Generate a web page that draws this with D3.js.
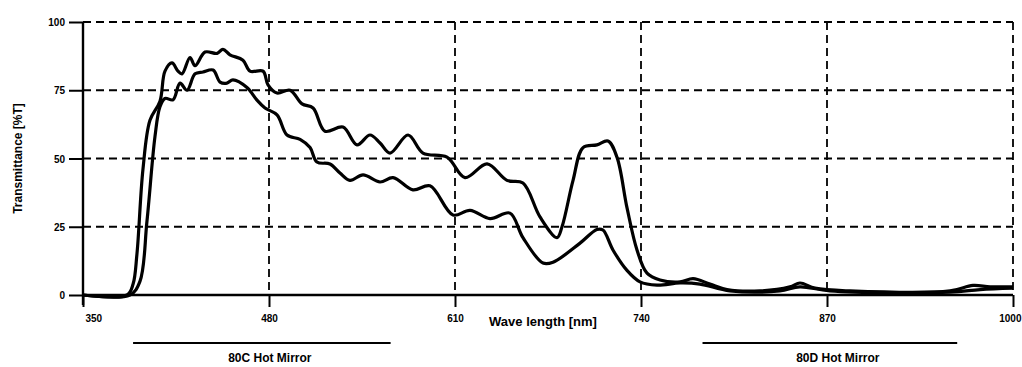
<!DOCTYPE html>
<html>
<head>
<meta charset="utf-8">
<script src="https://cdn.jsdelivr.net/npm/d3@7"></script>
<style>
  body { margin: 0; background: #fff; }
  text { font-family: "Liberation Sans", Arial, sans-serif; font-weight: bold; fill: #000; }
</style>
</head>
<body>
<script>
// wavelength ticks [nm] and transmittance ticks [%T]
var xTicks = [350, 480, 610, 740, 870, 1000];
var yTicks = [0, 25, 50, 75, 100];

// 80C Hot Mirror (upper curve)
var wlC = [350, 380.8, 385, 387.7, 391.9, 396.8, 403.8, 407.3, 412.2, 416.4, 419.2, 424.8, 428.3, 435.3, 443.7, 447.8,
  452.7, 461.8, 466.7, 475.8, 479.3, 485.6, 494.7, 503.1, 510.8, 519.1, 531.7, 541.5, 550.6, 557.6, 564.6, 577.2,
  587.6, 604.4, 617, 632.4, 646.3, 657.5, 669.4, 681.3, 684.8, 692.5, 699.5, 709.2, 716.9, 723.2, 730.2, 737.2,
  744.2, 753.3, 767.3, 776.4, 788.2, 800.1, 823.2, 844.1, 851.1, 861.6, 886, 956, 972, 984, 1000];
var tC = [0, 0, 4, 15, 46, 64, 71, 82, 85, 82, 81, 87, 84, 89, 88.5, 90,
  88, 86, 82, 82, 77, 74, 75, 70, 68.5, 60, 61.5, 55, 58.6, 55.7, 52, 58.6,
  52, 50.5, 43, 48, 42, 41, 28.6, 21, 25, 42, 54, 55, 56.4, 50.5, 32, 16.5,
  8, 5.5, 4.8, 6, 4, 2, 1.5, 3, 4.4, 2.5, 1.5, 1.5, 3.5, 3, 3];

// 80D Hot Mirror (lower curve)
var wlD = [350, 382.8, 389.8, 394.7, 400.3, 403.8, 407.3, 412.9, 417.8, 422.7, 428.3, 433.9, 440.9, 445.8, 450.6, 454.8,
  464.6, 471.6, 477.2, 485.6, 492.6, 501.7, 508.7, 513.5, 522.6, 529.6, 536.6, 545.7, 557.6, 566.7, 580.6, 592.5,
  608.6, 620.5, 634.5, 648.4, 657.5, 671.5, 678.5, 697.4, 709.2, 713.4, 720.4, 730.2, 739.3, 751.2, 767.3, 781.2,
  802.2, 837, 851.1, 872, 956, 977, 1000];
var tD = [0, 0, 5, 27, 58, 69, 72, 71.5, 77.6, 75, 81, 81.7, 82.4, 78, 77.6, 78.8,
  76, 71.4, 68.5, 66, 58.6, 57, 54, 48.7, 48, 44.7, 42, 44, 41.4, 43, 38.5, 40,
  29.3, 31, 28, 30, 21, 11.7, 12, 19, 24, 23.8, 16.5, 9, 4.8, 3.6, 4.4, 4,
  1.5, 1.5, 3, 1.5, 1, 2, 2.5];

var mirrorNames = ["80C Hot Mirror", "80D Hot Mirror"];
var mirrorRanges = [[385, 565], [783, 961]];

var width = 1022;
var height = 367;
var plotLeft = 83, plotRight = 1013, plotTop = 22, plotBottom = 295;

var svg = d3.select("body").append("svg")
  .attr("width", width)
  .attr("height", height);

var x = d3.scaleLinear().domain([350, 1000]).range([plotLeft, plotRight]);
var y = d3.scaleLinear().domain([0, 100]).range([plotBottom, plotTop]);

// dashed grid
svg.selectAll(".hgrid").data(yTicks.filter(function(d){ return d > 0; }))
  .enter().append("line")
  .attr("x1", plotLeft).attr("x2", plotRight)
  .attr("y1", function(d){ return y(d); }).attr("y2", function(d){ return y(d); })
  .attr("stroke", "#000").attr("stroke-width", 1.8).attr("stroke-dasharray", "8,5");

svg.selectAll(".vgrid").data(xTicks.slice(1))
  .enter().append("line")
  .attr("x1", function(d){ return x(d); }).attr("x2", function(d){ return x(d); })
  .attr("y1", plotTop).attr("y2", plotBottom)
  .attr("stroke", "#000").attr("stroke-width", 1.8).attr("stroke-dasharray", "8,5");

// axes
var xAxis = svg.append("g")
  .attr("transform", "translate(0," + plotBottom + ")")
  .call(d3.axisBottom(x).tickValues(xTicks).tickSize(12).tickPadding(8).tickFormat(d3.format("d")));
var yAxis = svg.append("g")
  .attr("transform", "translate(" + plotLeft + ",0)")
  .call(d3.axisLeft(y).tickValues(yTicks).tickSize(14).tickPadding(4).tickFormat(d3.format("d")));

[xAxis, yAxis].forEach(function(a){
  a.select(".domain").attr("stroke", "#000").attr("stroke-width", 2.4);
  a.selectAll(".tick line").attr("stroke", "#000").attr("stroke-width", 2);
  a.selectAll(".tick text").style("font-size", "10px").style("font-weight", "bold")
    .style("font-family", "'Liberation Sans', Arial, sans-serif").attr("fill", "#000");
});
xAxis.select(".domain").attr("d", "M" + plotLeft + ",0H" + plotRight);
yAxis.select(".domain").attr("d", "M0," + plotTop + "V" + (plotBottom + 10));
yAxis.selectAll(".tick text").attr("dy", "0.36em");
// first label sits just right of the corner, last one is pulled in from the edge
xAxis.selectAll(".tick text").filter(function(d){ return d === 350; }).attr("text-anchor", "start").attr("dx", 2);
xAxis.selectAll(".tick text").filter(function(d){ return d === 1000; }).attr("text-anchor", "end").attr("dx", 8);

// curves
var line = d3.line()
  .x(function(d){ return x(d[0]); })
  .y(function(d){ return y(d[1]); })
  .curve(d3.curveCatmullRom.alpha(0.5));

[[wlC, tC], [wlD, tD]].forEach(function(s){
  svg.append("path")
    .datum(d3.zip(s[0], s[1]))
    .attr("d", line)
    .attr("fill", "none")
    .attr("stroke", "#000")
    .attr("stroke-width", 3.2)
    .attr("stroke-linejoin", "round");
});

// axis titles
svg.append("text")
  .attr("transform", "translate(22," + ((plotTop + plotBottom) / 2) + ") rotate(-90)")
  .attr("text-anchor", "middle")
  .style("font-size", "12px")
  .text("Transmittance [%T]");

svg.append("text")
  .attr("x", 543).attr("y", 326)
  .attr("text-anchor", "middle")
  .style("font-size", "13px")
  .text("Wave length [nm]");

// hot mirror range bars
mirrorNames.forEach(function(name, i){
  var r = mirrorRanges[i];
  svg.append("line")
    .attr("x1", x(r[0])).attr("x2", x(r[1]))
    .attr("y1", 343).attr("y2", 343)
    .attr("stroke", "#000").attr("stroke-width", 2);
  svg.append("text")
    .attr("x", (x(r[0]) + x(r[1])) / 2 + 8).attr("y", 362)
    .attr("text-anchor", "middle")
    .style("font-size", "12px")
    .text(name);
});
</script>
</body>
</html>
